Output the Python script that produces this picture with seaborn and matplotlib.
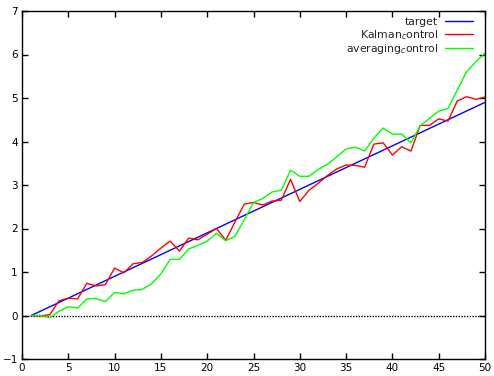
import matplotlib
matplotlib.use("Agg")
import matplotlib.pyplot as plt
import pandas as pd
import seaborn as sns

steps = list(range(1, 51))

target = [0.0, 0.1, 0.2, 0.3, 0.4, 0.5, 0.6, 0.7, 0.8, 0.9,
          1.0, 1.1, 1.2, 1.3, 1.4, 1.5, 1.6, 1.7, 1.8, 1.9,
          2.0, 2.1, 2.2, 2.3, 2.4, 2.5, 2.6, 2.7, 2.8, 2.9,
          3.0, 3.1, 3.2, 3.3, 3.4, 3.5, 3.6, 3.7, 3.8, 3.9,
          4.0, 4.1, 4.2, 4.3, 4.4, 4.5, 4.6, 4.7, 4.8, 4.9]

kalman = [0.0, -0.01, 0.02, 0.34, 0.40, 0.38, 0.74, 0.68, 0.71, 1.09,
          0.98, 1.19, 1.22, 1.37, 1.55, 1.71, 1.48, 1.78, 1.74, 1.87,
          2.00, 1.73, 2.15, 2.56, 2.60, 2.54, 2.63, 2.65, 3.13, 2.62,
          2.88, 3.04, 3.22, 3.37, 3.46, 3.45, 3.41, 3.94, 3.97, 3.69,
          3.88, 3.78, 4.37, 4.37, 4.52, 4.47, 4.93, 5.03, 4.97, 5.02]

averaging = [0.0, 0.0, -0.05, 0.10, 0.20, 0.17, 0.38, 0.39, 0.32, 0.53,
             0.50, 0.58, 0.60, 0.73, 0.96, 1.29, 1.29, 1.53, 1.61, 1.71,
             1.89, 1.72, 1.82, 2.20, 2.60, 2.69, 2.84, 2.88, 3.34, 3.20,
             3.20, 3.36, 3.48, 3.65, 3.83, 3.87, 3.78, 4.08, 4.31, 4.17,
             4.17, 3.97, 4.36, 4.53, 4.70, 4.76, 5.18, 5.60, 5.83, 6.03]

labels = ["target", "Kalman$_c$ontrol", "averaging$_c$ontrol"]
colors = ["#0000ff", "#ff0000", "#00ff00"]

df = pd.DataFrame({
    "step": steps * 3,
    "value": target + kalman + averaging,
    "series": [labels[0]] * 50 + [labels[1]] * 50 + [labels[2]] * 50,
})

sns.set_style("ticks")
plt.rcParams["font.family"] = ["DejaVu Sans"]
plt.rcParams["font.size"] = 7.5

fig = plt.figure(figsize=(4.94, 3.76), dpi=100)
ax = fig.add_axes([22 / 494, 1 - 359 / 376, 463 / 494, 348 / 376])

sns.lineplot(data=df, x="step", y="value", hue="series",
             palette=dict(zip(labels, colors)), linewidth=1, ax=ax)

ax.axhline(0, color="black", linestyle=(0, (1, 1)), linewidth=1, zorder=0)

ax.set(xlim=(0, 50), ylim=(-1, 7), xlabel="", ylabel="")
ax.set_xticks(range(0, 51, 5))
ax.set_yticks(range(-1, 8))
ax.tick_params(direction="in", top=True, right=True, length=4, width=1,
               labelsize=7.5, colors="black", pad=3)
for s in ax.spines.values():
    s.set_linewidth(1)
    s.set_color("black")

ax.legend(loc="upper right", bbox_to_anchor=(1 - 9 / 463, 1 - 3 / 348),
          frameon=False, markerfirst=False,
          fontsize=7.8, handlelength=2.6, borderaxespad=0.1,
          labelspacing=0.05, handletextpad=0.6, borderpad=0.2)

fig.savefig("out.png", dpi=100)
